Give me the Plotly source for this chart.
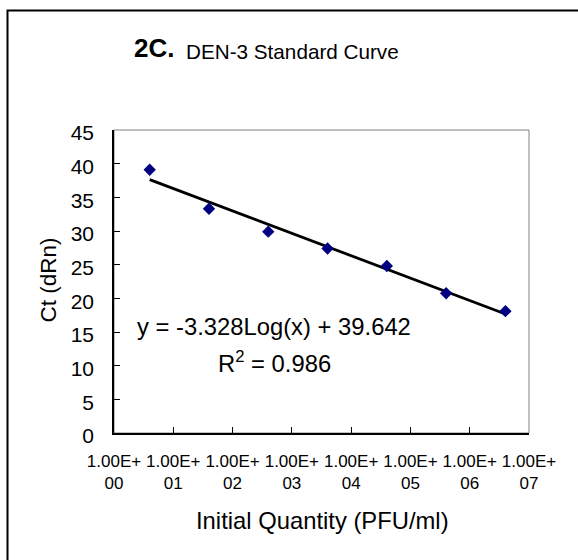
import math
import plotly.graph_objects as go

# ---- data ----
quantity = [4, 40, 400, 4000, 40000, 400000, 4000000]          # PFU/ml
ct_values = [39.1, 33.3, 29.9, 27.4, 24.8, 20.75, 18.1]        # Ct (dRn)
slope = -3.328
intercept = 39.642
r_squared = 0.986
x_tickvals = [1, 10, 100, 1000, 10000, 100000, 1000000, 10000000]
x_ticktext = ["1.00E+<br>00", "1.00E+<br>01", "1.00E+<br>02", "1.00E+<br>03",
              "1.00E+<br>04", "1.00E+<br>05", "1.00E+<br>06", "1.00E+<br>07"]
y_tickvals = [0, 5, 10, 15, 20, 25, 30, 35, 40, 45]

trend_x = [quantity[0], quantity[-1]]
trend_y = [slope * math.log10(v) + intercept for v in trend_x]

FONT = "Arial, 'Liberation Sans', sans-serif"
W, H = 578, 560
L, R, T, B = 114, 529, 129.5, 433.5


def px(x):
    return (x - L) / (R - L)


def py(y):
    return (B - y) / (B - T)


fig = go.Figure()
fig.add_trace(go.Scatter(x=trend_x, y=trend_y, mode="lines",
                         line=dict(color="black", width=2.8), showlegend=False,
                         hoverinfo="skip"))
fig.add_trace(go.Scatter(x=quantity, y=ct_values, mode="markers",
                         marker=dict(symbol="diamond", size=9.5, color="#000080"),
                         showlegend=False))

fig.update_layout(
    width=W, height=H,
    margin=dict(l=L, r=W - R, t=T, b=H - B, pad=0),
    paper_bgcolor="white", plot_bgcolor="white",
    font=dict(family=FONT, color="black"),
    xaxis=dict(type="log", range=[0, 7], tickvals=x_tickvals, ticktext=x_ticktext,
               ticks="inside", ticklen=6, tickcolor="black", tickwidth=1,
               showline=True, linecolor="black", linewidth=1.5,
               showgrid=False, zeroline=False, tickfont=dict(size=17),
               ticklabelstandoff=12),
    yaxis=dict(range=[0, 45], tickvals=y_tickvals,
               ticks="inside", ticklen=6, tickcolor="black", tickwidth=1,
               showline=True, linecolor="black", linewidth=1.5,
               showgrid=False, zeroline=False, tickfont=dict(size=21),
               ticklabelstandoff=14, ticklabelshift=3),
)

shapes = [
    # plot area border (gray)
    dict(type="rect", xref="paper", yref="paper", x0=0, x1=1, y0=0, y1=1,
         line=dict(color="#808080", width=1), layer="below"),
    # chart area border (cropped at right and bottom)
    dict(type="rect", xref="paper", yref="paper", x0=px(7.5), x1=px(620),
         y0=py(600), y1=py(9.5), line=dict(color="black", width=2)),
]
fig.update_layout(shapes=shapes)

annotations = [
    dict(text="<b>2C.</b>", x=px(132), y=py(64), xanchor="left", yanchor="bottom",
         font=dict(size=26), showarrow=False, xref="paper", yref="paper"),
    dict(text="DEN-3 Standard Curve", x=px(184), y=py(64), xanchor="left", yanchor="bottom",
         font=dict(size=20.7), showarrow=False, xref="paper", yref="paper"),
    dict(text="Ct (dRn)", x=px(48.5), y=py(280), xanchor="center", yanchor="middle",
         textangle=-90, font=dict(size=22.5), showarrow=False, xref="paper", yref="paper"),
    dict(text="Initial Quantity (PFU/ml)", x=px(322.7), y=py(521.7), xanchor="center",
         yanchor="middle", font=dict(size=23.8), showarrow=False, xref="paper", yref="paper"),
    dict(text=f"y = {slope}Log(x) + {intercept}", x=px(274), y=py(327), xanchor="center",
         yanchor="middle", font=dict(size=23.8), showarrow=False, xref="paper", yref="paper"),
    dict(text=f"R<sup>2</sup> = {r_squared}", x=px(274), y=py(362), xanchor="center",
         yanchor="middle", font=dict(size=23.8), showarrow=False, xref="paper", yref="paper"),
]
fig.update_layout(annotations=annotations)

fig.write_html("out.html")
